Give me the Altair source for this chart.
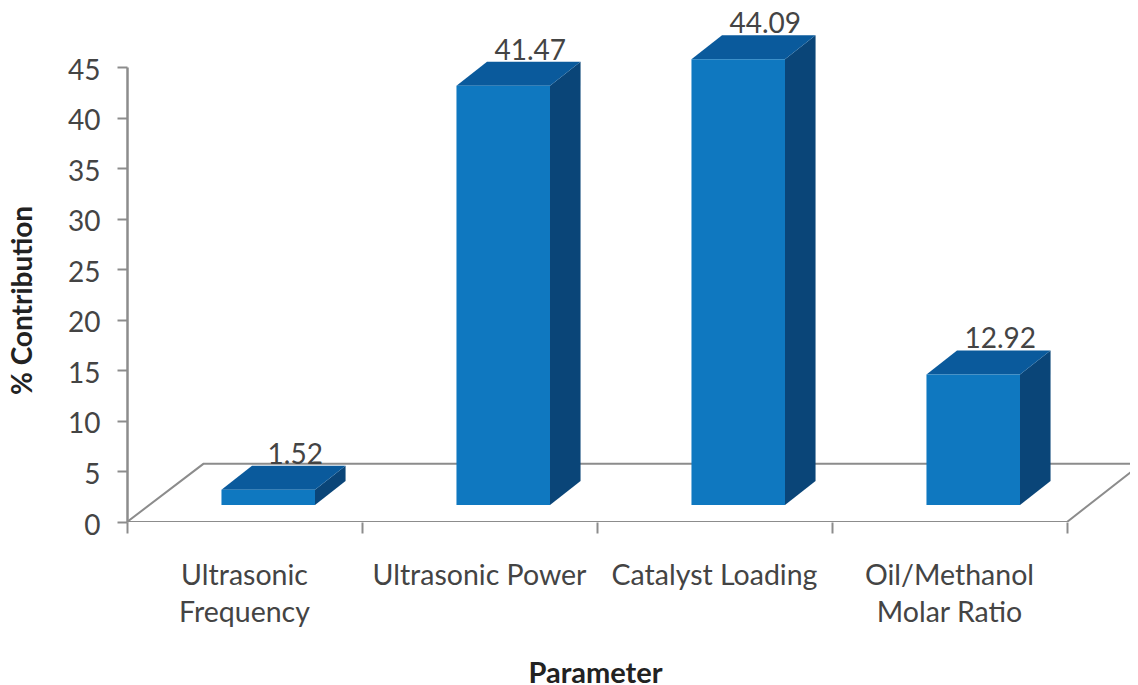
import altair as alt
import pandas as pd

categories = ["Ultrasonic\nFrequency", "Ultrasonic Power", "Catalyst Loading", "Oil/Methanol\nMolar Ratio"]
values = [1.52, 41.47, 44.09, 12.92]
y_ticks = [0, 5, 10, 15, 20, 25, 30, 35, 40, 45]
x_ticks = [0, 1, 2, 3, 4]
floor_front_x = [0.0, 4.0, 4.305]
floor_front_y = [0.0, 0.0, 5.55]
floor_back_x = [0.0, 0.325, 4.305]
floor_back_y = [0.0, 5.75, 5.75]

FONT = "Lato"
BAR_W = 0.398
BAR_L = 0.402
DX = 0.13
DY = 2.37
BASE = 1.68
FRONT, TOP, SIDE = "#0f78c0", "#0a5a9c", "#0a4578"
AXIS_C = "#8c8c8c"
TEXT_C = "#444444"
PLOT_W = 1003

xs = alt.Scale(domain=[0, PLOT_W / 235], nice=False, zero=False)
ys = alt.Scale(domain=[0, 45], nice=False, zero=False)

rows, tops, sides = [], [], []
for i, (c, v) in enumerate(zip(categories, values)):
    x0, x1 = i + BAR_L, i + BAR_L + BAR_W
    t, b = v + BASE, BASE
    rows.append(dict(cat=c, val=f"{v:.2f}", x0=x0, x1=x1, t=t, b=b,
                     xc=x0 + BAR_W / 2, xm=i + 0.5, xl=x0 + BAR_W / 2 + 0.115, yl=t + DY))
    for xx, lo, hi in [(x0, t, t), (x0 + DX, t, t + DY), (x1, t, t + DY), (x1 + DX, t + DY, t + DY)]:
        tops.append(dict(bar=i, x=xx, lo=lo, hi=hi))
    for xx, lo, hi in [(x1, b, t), (x1 + DX, b + DY, t + DY)]:
        sides.append(dict(bar=i, x=xx, lo=lo, hi=hi))
df = pd.DataFrame(rows)
df_top = pd.DataFrame(tops)
df_side = pd.DataFrame(sides)
floor = pd.DataFrame(
    [dict(edge="front", o=k, x=a, y=b) for k, (a, b) in enumerate(zip(floor_front_x, floor_front_y))]
    + [dict(edge="back", o=k, x=a, y=b) for k, (a, b) in enumerate(zip(floor_back_x, floor_back_y))]
)

XAX = alt.Axis(values=x_ticks, labels=False, domain=False, grid=False, tickSize=11,
               tickColor=AXIS_C, tickWidth=2, titleFont=FONT, titleFontSize=29,
               titleFontWeight="bold", titleColor="#222222",
               titleX=468, titleY=160, titleBaseline="alphabetic")
YAX = alt.Axis(values=y_ticks, grid=False, domainColor=AXIS_C, domainWidth=2.5,
               tickColor=AXIS_C, tickWidth=2, tickSize=10, labelFont=FONT,
               labelFontSize=28, labelColor=TEXT_C, labelPadding=17, labelOffset=4,
               titleFont=FONT, titleFontSize=28, titleFontWeight="bold",
               titleColor="#222222", titleX=-90, titleY=233)

X = lambda f: alt.X(f, type="quantitative", scale=xs, axis=XAX, title="Parameter")
Y = lambda f: alt.Y(f, type="quantitative", scale=ys, axis=YAX, title="% Contribution")

floor_lines = alt.Chart(floor).mark_line(color=AXIS_C, strokeWidth=2, clip=True).encode(
    x=X("x"), y=Y("y"), detail="edge:N", order="o:Q"
)
front = alt.Chart(df).mark_rect(color=FRONT).encode(
    x=X("x0"), x2="x1", y=Y("b"), y2="t"
)
top = alt.Chart(df_top).mark_area(color=TOP).encode(
    x=X("x"), y=Y("lo"), y2="hi", detail="bar:N"
)
side = alt.Chart(df_side).mark_area(color=SIDE).encode(
    x=X("x"), y=Y("lo"), y2="hi", detail="bar:N"
)
vals = alt.Chart(df).mark_text(font=FONT, fontSize=28, color=TEXT_C, baseline="alphabetic", dy=-2).encode(
    x=X("xl"), y=Y("yl"), text="val:N"
)
cats = alt.Chart(df).mark_text(font=FONT, fontSize=28.5, color=TEXT_C, baseline="top", lineBreak="\n",
                               lineHeight=37).encode(
    x=X("xm"), y=alt.value(495), text="cat:N"
)

chart = alt.layer(floor_lines, side, top, front, vals, cats).properties(
    width=PLOT_W, height=455,
    padding={"left": 119, "top": 59, "right": 0, "bottom": 162},
    autosize=alt.AutoSizeParams(type="none"),
).configure_view(stroke=None)

chart.save("out.html", embed_options={"renderer": "svg", "actions": False})
